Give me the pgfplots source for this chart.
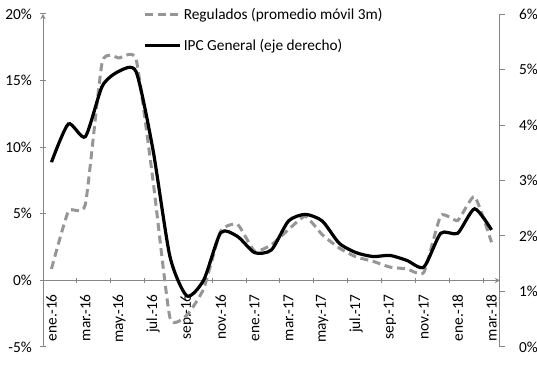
\documentclass[border=0pt]{standalone}
\usepackage{fontspec}
\setmainfont{Carlito}
\usepackage{pgfplots}
\pgfplotsset{compat=1.18}
\definecolor{axgray}{RGB}{134,134,134}
\definecolor{reggray}{RGB}{150,150,150}
\pgfplotstableread{
x y
0 0.86
1 5.19
2 5.69
3 16.4
4 16.7
5 16.6
6 7.5
7 -2.8
8 -2.6
9 -0.6
10 3.7
11 4.2
12 2.2
13 2.68
14 3.81
15 4.81
16 3.43
17 2.43
18 1.76
19 1.43
20 1.0
21 0.86
22 0.6
23 4.86
24 4.5
25 6.3
26 2.86
}\regtable
\pgfplotstableread{
x y
0 3.33
1 4.02
2 3.79
3 4.70
4 4.97
5 4.96
6 3.55
7 1.63
8 0.92
9 1.21
10 2.06
11 1.99
12 1.70
13 1.75
14 2.27
15 2.39
16 2.27
17 1.87
18 1.70
19 1.63
20 1.65
21 1.56
22 1.44
23 2.05
24 2.05
25 2.49
26 2.11
}\ipctable
\begin{document}
\begin{tikzpicture}
\pgfplotsset{
 common/.style={
  at={(0,0)}, anchor=south west, scale only axis,
  width=342.75pt, height=249.75pt,
  xmin=-0.5, xmax=26.5,
  font=\fontsize{11.5}{13.5}\selectfont,
  axis line style={draw=axgray, line width=0.75pt, -},
  tick style={draw=axgray, line width=0.75pt},
  tick align=outside,
  major tick length=3.75pt,
  legend image code/.code={\draw[#1] (0pt,0pt) -- (26pt,0pt);},
 }
}
\begin{axis}[common,
 ymin=-5, ymax=20,
 axis y line=left, axis x line=middle,
 hide obscured x ticks=false, hide obscured y ticks=false,
 ytick={-5,0,5,10,15,20},
 yticklabels={-5\%,0\%,5\%,10\%,15\%,20\%},
 yticklabel shift=3pt,
 xtick={-0.5,1.5,...,25.5}, xticklabels={},
 extra x ticks={0,2,...,26},
 extra x tick labels={ene.-16,mar.-16,may.-16,jul.-16,sep.-16,nov.-16,ene.-17,mar.-17,may.-17,jul.-17,sep.-17,nov.-17,ene.-18,mar.-18},
 extra x tick style={major tick length=0pt, tick label style={rotate=90, anchor=east}},
 xticklabel shift=7pt,
]
\addplot[reggray, line width=2.25pt, dash pattern=on 6pt off 3.5pt, smooth, tension=0.3] table[x=x,y=y] {\regtable};
\end{axis}
\begin{axis}[common,
 ymin=0, ymax=6,
 axis y line*=right, axis x line=none,
 ytick={0,1,2,3,4,5,6},
 yticklabels={0\%,1\%,2\%,3\%,4\%,5\%,6\%},
 yticklabel shift=7pt,
 legend style={at={(rel axis cs:0.2188,1.027)}, anchor=north west, draw=none, fill=none, inner sep=0pt, row sep=9.5pt, font=\fontsize{11.5}{13.5}\selectfont},
 legend cell align=left,
]
\addlegendimage{reggray, line width=2.25pt, dash pattern=on 6pt off 3.5pt}
\addlegendentry{Regulados (promedio móvil 3m)}
\addplot[black, line width=2.4pt, smooth, tension=0.4] table[x=x,y=y] {\ipctable};
\addlegendentry{IPC General (eje derecho)}
\end{axis}
\pgfresetboundingbox
\path (-32.25pt,-15.75pt) rectangle (370.5pt,260.25pt);
\end{tikzpicture}
\end{document}
